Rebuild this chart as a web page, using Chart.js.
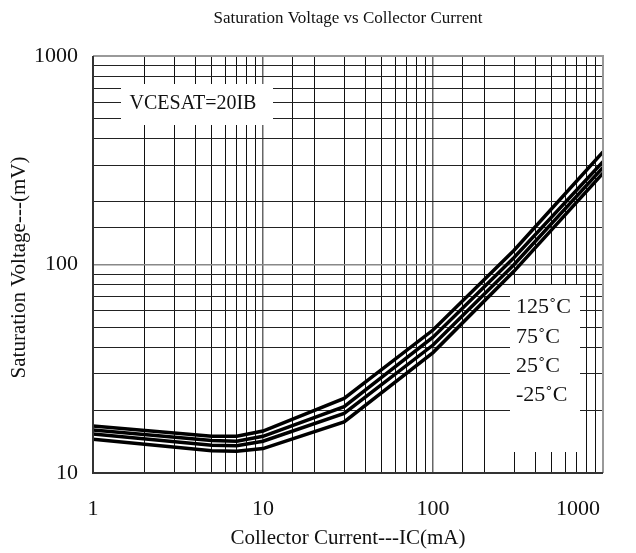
<!DOCTYPE html>
<html>
<head>
<meta charset="utf-8">
<script src="https://cdn.jsdelivr.net/npm/chart.js@4"></script>
<style>
  body { margin: 0; background: #fff; }
  canvas { display: block; }
</style>
</head>
<body>
<canvas id="myChart" width="636" height="553"></canvas>
<script>
// Values (log-log chart).
var currentMa = [1, 5, 7, 10, 30, 100, 300, 1000];
var vce125 = [16.8, 15.0, 15.0, 15.9, 22.8, 48.5, 117, 347];
var vce75 = [16.1, 14.3, 14.2, 15.0, 20.8, 44.8, 108, 311];
var vce25 = [15.4, 13.6, 13.5, 14.2, 19.3, 41.1, 100, 292];
var vceM25 = [14.5, 12.8, 12.7, 13.1, 17.6, 37.8, 93, 274];

var xTickLabels = [1, 10, 100, 1000];
var yTickLabels = [10, 100, 1000];
var tempLabels = ["125˚C", "75˚C", "25˚C", "-25˚C"];

var serif = "'Liberation Serif', 'DejaVu Serif', serif";

function toPoints(values) {
  return currentMa.map((x, i) => ({ x: x, y: values[i] }));
}

function isDecade(v) {
  var l = Math.log10(v);
  return Math.abs(l - Math.round(l)) < 1e-6;
}

// Draws white boxes behind the notes, then text and frame.
var notesPlugin = {
  id: "notes",
  beforeDatasetsDraw(chart) {
    var ctx = chart.ctx;
    ctx.save();
    ctx.fillStyle = "#fff";
    ctx.fillRect(121, 84, 152, 41);
    ctx.fillRect(510, 285, 70, 167);
    ctx.restore();
  },
  afterDraw(chart) {
    var ctx = chart.ctx;
    var area = chart.chartArea;
    var xs = chart.scales.x, ys = chart.scales.y;
    ctx.save();

    // frame
    ctx.lineWidth = 2;
    ctx.strokeStyle = "#999";
    ctx.beginPath();
    ctx.moveTo(area.left, area.top);
    ctx.lineTo(area.right, area.top);
    ctx.lineTo(area.right, area.bottom);
    ctx.stroke();
    ctx.strokeStyle = "#333";
    ctx.beginPath();
    ctx.moveTo(area.left, area.top);
    ctx.lineTo(area.left, area.bottom);
    ctx.lineTo(area.right, area.bottom);
    ctx.stroke();

    ctx.fillStyle = "#111";
    ctx.textBaseline = "middle";

    // title
    ctx.font = "17px " + serif;
    ctx.textAlign = "center";
    ctx.fillText("Saturation Voltage vs Collector Current", (area.left + area.right) / 2, 19);

    // tick labels
    ctx.font = "22px " + serif;
    ctx.textAlign = "right";
    yTickLabels.forEach(v => ctx.fillText(String(v), area.left - 15, ys.getPixelForValue(v)));
    xTickLabels.forEach((v, i) => {
      var last = i === xTickLabels.length - 1;
      ctx.textAlign = last ? "right" : "center";
      var px = xs.getPixelForValue(v);
      ctx.fillText(String(v), last ? px - 3 : px, 509);
    });

    // axis titles
    ctx.font = "21px " + serif;
    ctx.textAlign = "center";
    ctx.fillText("Collector Current---IC(mA)", (area.left + area.right) / 2, 538);
    ctx.save();
    ctx.translate(19, (area.top + area.bottom) / 2 + 3);
    ctx.rotate(-Math.PI / 2);
    ctx.fillText("Saturation Voltage---(mV)", 0, 0);
    ctx.restore();

    // notes
    ctx.font = "20px " + serif;
    ctx.fillText("VCESAT=20IB", 193, 104);
    ctx.font = "22px " + serif;
    ctx.textAlign = "left";
    var rowY = [307, 337, 366, 395];
    tempLabels.forEach((t, i) => ctx.fillText(t, 516, rowY[i]));

    ctx.restore();
  }
};

function lineSet(label, values) {
  return {
    label: label,
    data: toPoints(values),
    borderColor: "#000",
    borderWidth: 3.5,
    pointRadius: 0,
    tension: 0,
    fill: false
  };
}

var ctx = document.getElementById("myChart");
var myChart = new Chart(ctx, {
  type: "line",
  data: {
    datasets: [
      lineSet("125°C", vce125),
      lineSet("75°C", vce75),
      lineSet("25°C", vce25),
      lineSet("-25°C", vceM25)
    ]
  },
  options: {
    responsive: false,
    animation: false,
    layout: { padding: { left: 93, right: 33, top: 56, bottom: 80 } },
    plugins: {
      legend: { display: false },
      tooltip: { enabled: false }
    },
    scales: {
      x: {
        type: "logarithmic",
        min: 1,
        max: 1000,
        ticks: { display: false, autoSkip: false },
        border: { display: false },
        grid: {
          drawTicks: false,
          color: c => isDecade(c.tick.value) ? "#666" : "#111",
          lineWidth: c => isDecade(c.tick.value) ? 1.5 : 1
        }
      },
      y: {
        type: "logarithmic",
        min: 10,
        max: 1000,
        ticks: { display: false, autoSkip: false },
        border: { display: false },
        grid: {
          drawTicks: false,
          color: c => isDecade(c.tick.value) ? "#888" : "#222",
          lineWidth: c => isDecade(c.tick.value) ? 1.5 : 1
        }
      }
    }
  },
  plugins: [notesPlugin]
});
</script>
</body>
</html>
